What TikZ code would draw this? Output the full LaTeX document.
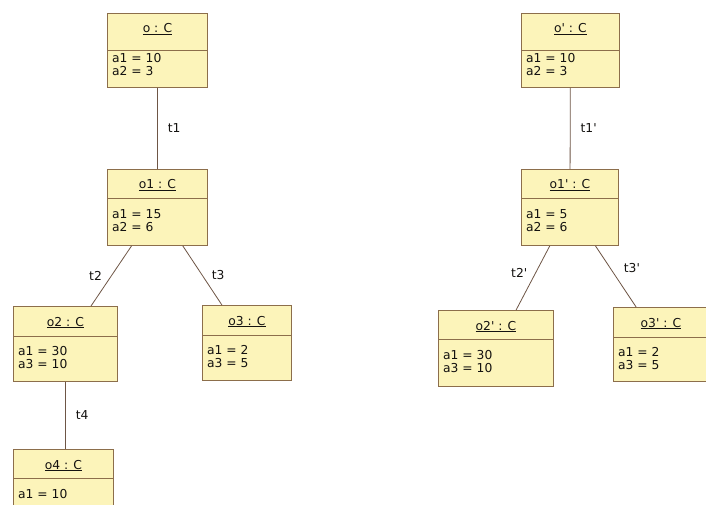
\documentclass[tikz,border=0pt]{standalone}
\usepackage{fontspec}
\setmainfont{DejaVu Sans}
\definecolor{objfill}{HTML}{FCF4BA}
\definecolor{objedge}{HTML}{8C6E4B}
\definecolor{linkline}{HTML}{6E5646}
\definecolor{objink}{HTML}{141210}
\newcommand{\prm}{\textquotesingle}
% name, left, top, width, height, title strip, title, attributes
\newcommand{\umlobj}[8]{%
  \node[objbox, minimum width=#4, minimum height=#5] (#1) at (#2,#3) {};
  \draw[objedge] ([yshift=-#6]#1.north west) -- ([yshift=-#6]#1.north east);
  \node[objtitle] at ([yshift=-20pt]#1.north) {\underline{#7}};
  \node[objattr] at ([xshift=5pt,yshift=-40pt]#1.north west) {#8};
}

\begin{document}
\begin{tikzpicture}[
  x=1pt,
  y=-1pt,
  every node/.style={font=\fontsize{12.3}{13.4}\selectfont, objink},
  objbox/.style={draw=objedge, fill=objfill, line width=0.9pt,
                 anchor=north west, inner sep=0pt},
  objtitle/.style={anchor=base, inner sep=0pt},
  objattr/.style={anchor=north west, align=left, inner sep=0pt},
  link/.style={linkline, line width=0.8pt},
  lbl/.style={inner sep=1pt}
]
  \useasboundingbox (0,0) rectangle (706,505);
  \clip (0,0) rectangle (706,505);

  % ---- left tree -----------------------------------------------------------
  \umlobj{o}{107}{13}{100}{74}{37}{o : C}{a1 = 10\\a2 = 3}
  \umlobj{o1}{107}{169}{100}{76}{29}{o1 : C}{a1 = 15\\a2 = 6}
  \umlobj{o2}{13}{306}{104}{75}{30}{o2 : C}{a1 = 30\\a3 = 10}
  \umlobj{o3}{202}{305}{89}{75}{30}{o3 : C}{a1 = 2\\a3 = 5}
  \umlobj{o4}{13}{449}{100}{76}{29}{o4 : C}{a1 = 10}

  \draw[link] (o) -- node[lbl, right=9pt] {t1} (o1);
  \draw[link] (o1) -- node[lbl, left=8pt] {t2} (o2);
  \draw[link] (o1) -- node[lbl, right=8pt] {t3} (o3);
  \draw[link] (o2.south) -- node[lbl, right=9pt] {t4} (o2.south |- o4.north);

  % ---- right tree ----------------------------------------------------------
  \umlobj{op}{521}{13}{98}{74}{37}{o\prm{} : C}{a1 = 10\\a2 = 3}
  \umlobj{o1p}{521}{169}{97}{76}{29}{o1\prm{} : C}{a1 = 5\\a2 = 6}
  \umlobj{o2p}{438}{310}{115}{76}{29}{o2\prm{} : C}{a1 = 30\\a3 = 10}
  \umlobj{o3p}{613}{307}{95}{74}{30}{o3\prm{} : C}{a1 = 2\\a3 = 5}

  \draw[link] (op) -- node[lbl, right=9pt] {t1\prm} (o1p);
  \draw[link] (o1p) -- node[lbl, pos=0.42, left=7pt] {t2\prm} (o2p);
  \draw[link] (o1p) -- node[lbl, pos=0.37, right=12pt] {t3\prm} (o3p);
\end{tikzpicture}
\end{document}
